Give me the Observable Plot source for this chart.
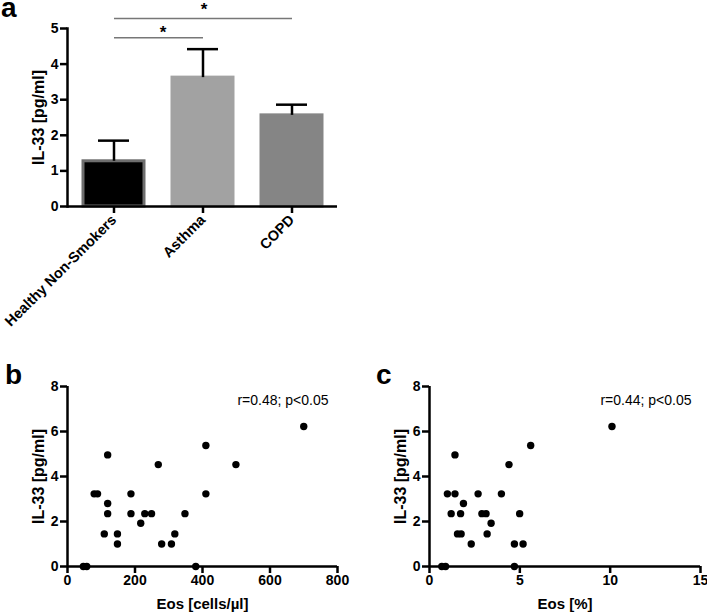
<!DOCTYPE html>
<html><head><meta charset="utf-8">
<script src="https://cdn.jsdelivr.net/npm/d3@7"></script>
<script src="https://cdn.jsdelivr.net/npm/@observablehq/plot@0.6"></script>
<style>
body{margin:0;background:#fff;}
#wrap{position:relative;width:707px;height:612px;overflow:hidden;background:#fff;font-family:"Liberation Sans",Arial,Helvetica,sans-serif;color:#000;}
.panel{position:absolute;}
.panel svg{overflow:visible;}
.panel g[aria-label="y-axis label"] text{font-size:16px;}
.panel g[aria-label="x-axis label"] text{font-size:15px;}
#pa g[aria-label="x-axis tick label"] text{font-size:14.5px;}
.letter{position:absolute;font-size:28px;font-weight:bold;line-height:1;}
</style></head><body>
<div id="wrap">
  <div class="panel" id="pa" style="left:0;top:0"></div>
  <div class="panel" id="pb" style="left:0;top:360px"></div>
  <div class="panel" id="pc" style="left:360px;top:360px"></div>
  <div class="letter" style="left:1px;top:0;line-height:0.6">a</div>
  <div class="letter" style="left:5px;top:361px">b</div>
  <div class="letter" style="left:376px;top:361px">c</div>
</div>
<script>
// ---- Panel a data ----
const groups = ["Healthy Non-Smokers", "Asthma", "COPD"];
const means = [1.27, 3.62, 2.56];
const sems = [0.58, 0.80, 0.30];
const barFills = ["#000000", "#a2a2a2", "#858585"];
const barStrokes = ["#6e6e6e", "#a2a2a2", "#858585"];
const aTicks = [0, 1, 2, 3, 4, 5];
const sigFrom = ["Healthy Non-Smokers", "Healthy Non-Smokers"];
const sigTo = ["COPD", "Asthma"];
const sigLevel = [5.28, 4.74];
const sigMark = ["*", "*"];

// ---- Panel b data ----
const bEos = [47, 57, 380, 79, 89, 119, 119, 119, 109, 148, 148, 188, 188, 217, 229, 249, 269, 279, 308, 318, 348, 410, 410, 499, 700];
const bIL = [0, 0, 0, 3.23, 3.23, 4.96, 2.8, 2.35, 1.45, 1.45, 1.0, 3.23, 2.35, 1.92, 2.35, 2.35, 4.53, 1.0, 1.0, 1.45, 2.35, 5.38, 3.23, 4.53, 6.22];
const bTicksX = [0, 200, 400, 600, 800];
const bStat = "r=0.48; p<0.05";

// ---- Panel c data ----
const cEos = [0.68, 0.89, 4.70, 0.99, 1.41, 1.41, 1.20, 1.72, 1.88, 1.55, 1.75, 2.31, 2.69, 2.90, 3.13, 3.41, 3.19, 3.98, 4.40, 4.70, 4.99, 5.18, 5.60, 10.1];
const cIL = [0, 0, 0, 3.23, 3.23, 4.96, 2.35, 2.35, 2.8, 1.45, 1.45, 1.0, 3.23, 2.35, 2.35, 1.92, 1.45, 3.23, 4.53, 1.0, 2.35, 1.0, 5.38, 6.22];
const cTicksX = [0, 5, 10, 15];
const cStat = "r=0.44; p<0.05";

const scTicksY = [0, 2, 4, 6, 8];
const yLabel = "IL-33 [pg/ml]";

const font = "'Liberation Sans', Arial, Helvetica, sans-serif";
const baseStyle = {fontFamily: font, fontSize: "14px", fontWeight: "bold", color: "#000", background: "transparent"};
const AW = 2.5;
const intFmt = d3.format("d");

// ---- Panel a ----
const bars = groups.map((g, i) => ({group: g, mean: means[i], top: means[i] + sems[i], fill: barFills[i], stroke: barStrokes[i]}));
const sig = sigFrom.map((f, i) => ({from: f, to: sigTo[i], y: sigLevel[i], mark: sigMark[i]}));

const pa = Plot.plot({
  width: 350, height: 320,
  marginLeft: 67, marginRight: 13, marginTop: 28, marginBottom: 114,
  style: baseStyle,
  x: {domain: groups, paddingInner: 0.32, paddingOuter: 0.164},
  y: {domain: [0, 5]},
  marks: [
    Plot.barY(bars, {x: "group", y: "mean", fill: "fill", stroke: "stroke", strokeWidth: 3}),
    Plot.ruleX(bars, {x: "group", y1: "mean", y2: "top", stroke: "#000", strokeWidth: AW}),
    Plot.tickY(bars, {x: "group", y: "top", stroke: "#000", strokeWidth: AW, insetLeft: 15, insetRight: 15}),
    Plot.link(sig, {x1: "from", x2: "to", y1: "y", y2: "y", stroke: "#777", strokeWidth: 1.5}),
    Plot.text([sig[0]], {x: "to", y: "y", text: "mark", dx: -88, dy: -9, fontSize: 17, fontWeight: "bold"}),
    Plot.text([sig[1]], {x: "to", y: "y", text: "mark", dx: -40, dy: -5, fontSize: 17, fontWeight: "bold"}),
    Plot.ruleY([0], {stroke: "#000", strokeWidth: AW}),
    Plot.frame({anchor: "left", stroke: "#000", strokeWidth: AW}),
    Plot.axisY({ticks: aTicks, tickFormat: intFmt, tickSize: 7, tickPadding: 2, strokeWidth: AW, label: yLabel, labelArrow: "none", labelAnchor: "center", labelOffset: 35}),
    Plot.axisX({tickRotate: -45, tickSize: 7, tickPadding: 4, strokeWidth: AW, label: null})
  ]
});
document.getElementById("pa").appendChild(pa);

// ---- Scatter builder ----
function scatter(xs, ys, xTicks, xDomain, xLabel, stat, width, mLeft, mRight) {
  const pts = xs.map((x, i) => ({eos: x, il: ys[i]}));
  return Plot.plot({
    width, height: 252,
    marginLeft: mLeft, marginRight: mRight, marginTop: 26, marginBottom: 46,
    style: baseStyle,
    x: {domain: xDomain},
    y: {domain: [0, 8]},
    marks: [
      Plot.ruleY([0], {stroke: "#000", strokeWidth: AW}),
      Plot.ruleX([0], {stroke: "#000", strokeWidth: AW}),
      Plot.axisY({ticks: scTicksY, tickFormat: intFmt, tickSize: 7, tickPadding: 2, strokeWidth: AW, label: yLabel, labelArrow: "none", labelAnchor: "center", labelOffset: 35}),
      Plot.axisX({ticks: xTicks, tickFormat: intFmt, tickSize: 7, tickPadding: 2, strokeWidth: AW, label: xLabel, labelArrow: "none", labelAnchor: "center", labelOffset: 42}),
      Plot.dot(pts, {x: "eos", y: "il", r: 3.7, fill: "#000", stroke: null}),
      Plot.text([stat], {frameAnchor: "top-right", text: d => d, textAnchor: "end", lineAnchor: "middle", dx: -9, dy: 14, fontWeight: "normal", fontSize: 14})
    ]
  });
}

document.getElementById("pb").appendChild(scatter(bEos, bIL, bTicksX, [0, 800], "Eos [cells/µl]", bStat, 350, 67, 13));
document.getElementById("pc").appendChild(scatter(cEos, cIL, cTicksX, [0, 15], "Eos [%]", cStat, 347, 69, 7));
</script>
</body></html>
